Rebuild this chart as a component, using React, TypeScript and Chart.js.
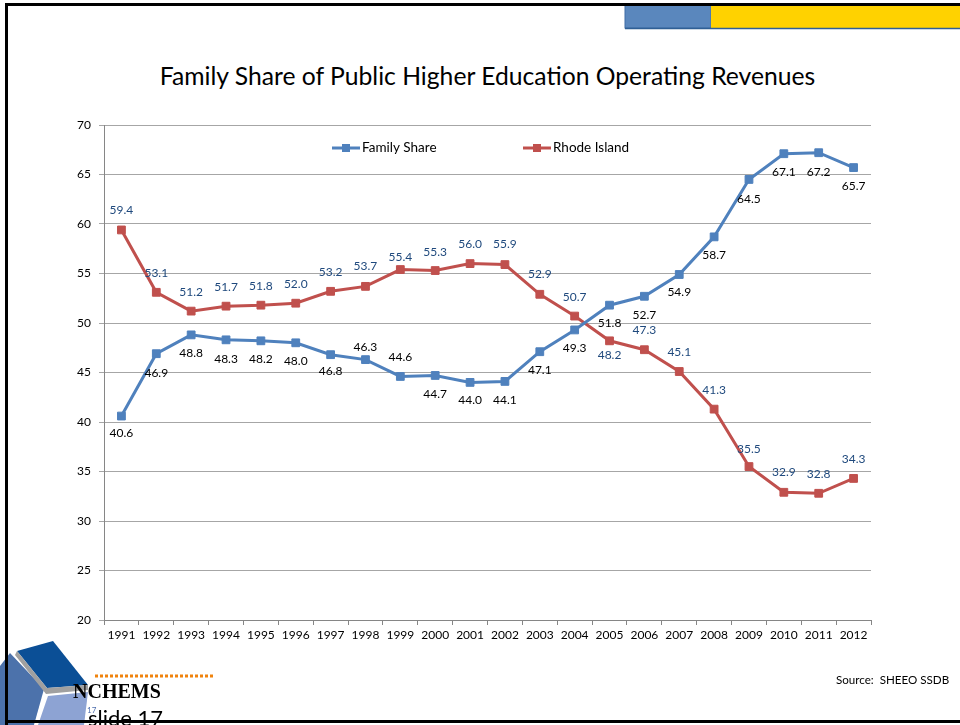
import React, { useEffect, useRef } from "react";
import { Chart, registerables } from "chart.js";

Chart.register(...registerables);

const years = ["1991","1992","1993","1994","1995","1996","1997","1998","1999","2000","2001","2002","2003","2004","2005","2006","2007","2008","2009","2010","2011","2012"];
const familyShare = [40.6,46.9,48.8,48.3,48.2,48.0,46.8,46.3,44.6,44.7,44.0,44.1,47.1,49.3,51.8,52.7,54.9,58.7,64.5,67.1,67.2,65.7];
const rhodeIsland = [59.4,53.1,51.2,51.7,51.8,52.0,53.2,53.7,55.4,55.3,56.0,55.9,52.9,50.7,48.2,47.3,45.1,41.3,35.5,32.9,32.8,34.3];
const yTicks = [20,25,30,35,40,45,50,55,60,65,70];

// label vertical offsets (style only)
const familyLabelDy = [17,19,18,19,18,18,16,-13,-19,19,18,19,18,18,18,19,18,18,20,18,19,19];
const riLabelDy = [-20,-19,-19,-19,-19,-19,-19,-20,-12,-18,-19,-20,-20,-19,14,-20,-19,-19,-17,-20,-19,-19];

const BLUE = "#4F81BD";
const RED = "#C0504D";
const FONT = "Lato, 'Open Sans', sans-serif";

const labelPlugin = {
  id: "pointLabels",
  afterDatasetsDraw(chart: any) {
    const ctx = chart.ctx;
    ctx.save();
    ctx.font = `12px ${FONT}`;
    ctx.textAlign = "center";
    ctx.textBaseline = "middle";
    chart.data.datasets.forEach((ds: any, di: number) => {
      const meta = chart.getDatasetMeta(di);
      const dys = di === 0 ? familyLabelDy : riLabelDy;
      ctx.fillStyle = di === 0 ? "#000000" : "#1F497D";
      meta.data.forEach((pt: any, i: number) => {
        const v = ds.data[i];
        ctx.fillText(v.toFixed(1), pt.x, pt.y + dys[i]);
      });
    });
    ctx.restore();
  },
};

const legendPlugin = {
  id: "customLegend",
  afterDraw(chart: any) {
    const ctx = chart.ctx;
    const items = [
      { x: 332, color: BLUE, text: chart.data.datasets[0].label },
      { x: 523, color: RED, text: chart.data.datasets[1].label },
    ];
    const y = 148;
    ctx.save();
    items.forEach((it) => {
      ctx.strokeStyle = it.color;
      ctx.lineWidth = 3;
      ctx.beginPath();
      ctx.moveTo(it.x, y);
      ctx.lineTo(it.x + 28, y);
      ctx.stroke();
      ctx.fillStyle = it.color;
      ctx.fillRect(it.x + 10, y - 4, 8, 8);
      ctx.fillStyle = "#000";
      ctx.font = `13.5px ${FONT}`;
      ctx.textAlign = "left";
      ctx.textBaseline = "middle";
      ctx.fillText(it.text, it.x + 30, y);
    });
    ctx.restore();
  },
};

function ChartCanvas() {
  const ref = useRef<HTMLCanvasElement | null>(null);
  useEffect(() => {
    if (!ref.current) return;
    const chart = new Chart(ref.current, {
      type: "line",
      data: {
        labels: years,
        datasets: [
          {
            label: "Family Share",
            data: familyShare,
            borderColor: BLUE,
            backgroundColor: BLUE,
            borderWidth: 3,
            pointStyle: "rect",
            pointRadius: 5.5,
            pointBorderWidth: 1,
            tension: 0,
          },
          {
            label: "Rhode Island",
            data: rhodeIsland,
            borderColor: RED,
            backgroundColor: RED,
            borderWidth: 3,
            pointStyle: "rect",
            pointRadius: 5.5,
            pointBorderWidth: 1,
            tension: 0,
          },
        ],
      },
      options: {
        animation: false,
        responsive: false,
        devicePixelRatio: 1,
        layout: { padding: { left: 64, right: 89, top: 125, bottom: 75 } },
        plugins: { legend: { display: false }, title: { display: false }, tooltip: { enabled: false } },
        scales: {
          x: {
            type: "category",
            offset: true,
            grid: { offset: true, drawOnChartArea: false, drawTicks: true, tickLength: 5, color: "#868686" },
            border: { color: "#868686" },
            ticks: { font: { family: FONT, size: 12 }, color: "#000", padding: 3, maxRotation: 0, autoSkip: false },
            afterFit: (s: any) => { s.height = 30; },
          },
          y: {
            min: 20,
            max: 70,
            afterBuildTicks: (s: any) => { s.ticks = yTicks.map((v) => ({ value: v })); },
            grid: { color: "#A6A6A6", tickLength: 5, lineWidth: 1 },
            border: { color: "#868686" },
            ticks: { font: { family: FONT, size: 12 }, color: "#000", padding: 8 },
            afterFit: (s: any) => { s.width = 40; },
          },
        },
      },
      plugins: [labelPlugin, legendPlugin],
    } as any);
    return () => chart.destroy();
  }, []);
  return <canvas ref={ref} width={960} height={725} style={{ position: "absolute", left: 0, top: 0, width: 960, height: 725 }} />;
}

export default function App() {
  return (
    <div style={{ position: "relative", width: 960, height: 725, overflow: "hidden", background: "#fff" }}>
      <style>{`body{margin:0}`}</style>
      <div style={{ position: "absolute", left: 0, width: 975, top: 59, textAlign: "center", fontFamily: FONT, fontSize: 24.7, color: "#000", lineHeight: "34px", whiteSpace: "nowrap" }}>
        Family Share of Public Higher Education Operating Revenues
      </div>
      <ChartCanvas />
      <svg width={960} height={725} style={{ position: "absolute", left: 0, top: 0, pointerEvents: "none" }}>
        {/* logo */}
        <polygon points="0,666 10,653 44,689 34,725 0,725" fill="#4C72AB" />
        <polygon points="17,651 53,641 88,685 47,688" fill="#0B4F96" />
        <polygon points="15,655 17,651 47,688 88,685 88,690 46,694" fill="#A0A0A0" />
        <polygon points="48,696 88,692 84,725 38,725" fill="#8DA3D3" />
        <line x1="45" y1="694" x2="36" y2="725" stroke="#ffffff" strokeWidth="3" />
        <line x1="95" y1="676" x2="213" y2="676" stroke="#F0830D" strokeWidth="3" strokeDasharray="3 2" />
        {/* top bars */}
        <rect x={625} y={5} width={86} height={23} fill="#5A87BD" stroke="#3E6CA6" strokeWidth={1} />
        <rect x={711} y={5} width={249} height={23} fill="#FFD200" />
        <line x1="625" y1="28.5" x2="960" y2="28.5" stroke="#2F5F95" strokeWidth="1.5" />
      </svg>
      <div style={{ position: "absolute", left: 836, top: 673, fontFamily: FONT, fontSize: 11.6, color: "#000", whiteSpace: "pre" }}>
        {"Source:  SHEEO SSDB"}
      </div>
      <div style={{ position: "absolute", left: 73, top: 680, fontFamily: "'Liberation Serif', serif", fontWeight: "bold", fontSize: 20, color: "#000" }}>
        NCHEMS
      </div>
      <div style={{ position: "absolute", left: 87, top: 705, fontFamily: FONT, fontSize: 8, color: "#4F6FAD" }}>17</div>
      <div style={{ position: "absolute", left: 88, top: 705, fontFamily: FONT, fontSize: 22, color: "#000", lineHeight: "26px" }}>slide 17</div>
      <svg width={960} height={725} style={{ position: "absolute", left: 0, top: 0, pointerEvents: "none" }}>
        <rect x={5} y={3} width={955} height={3} fill="#000" />
        <rect x={5} y={3} width={3} height={722} fill="#000" />
        <rect x={5} y={720} width={955} height={3} fill="#000" />
      </svg>
    </div>
  );
}
